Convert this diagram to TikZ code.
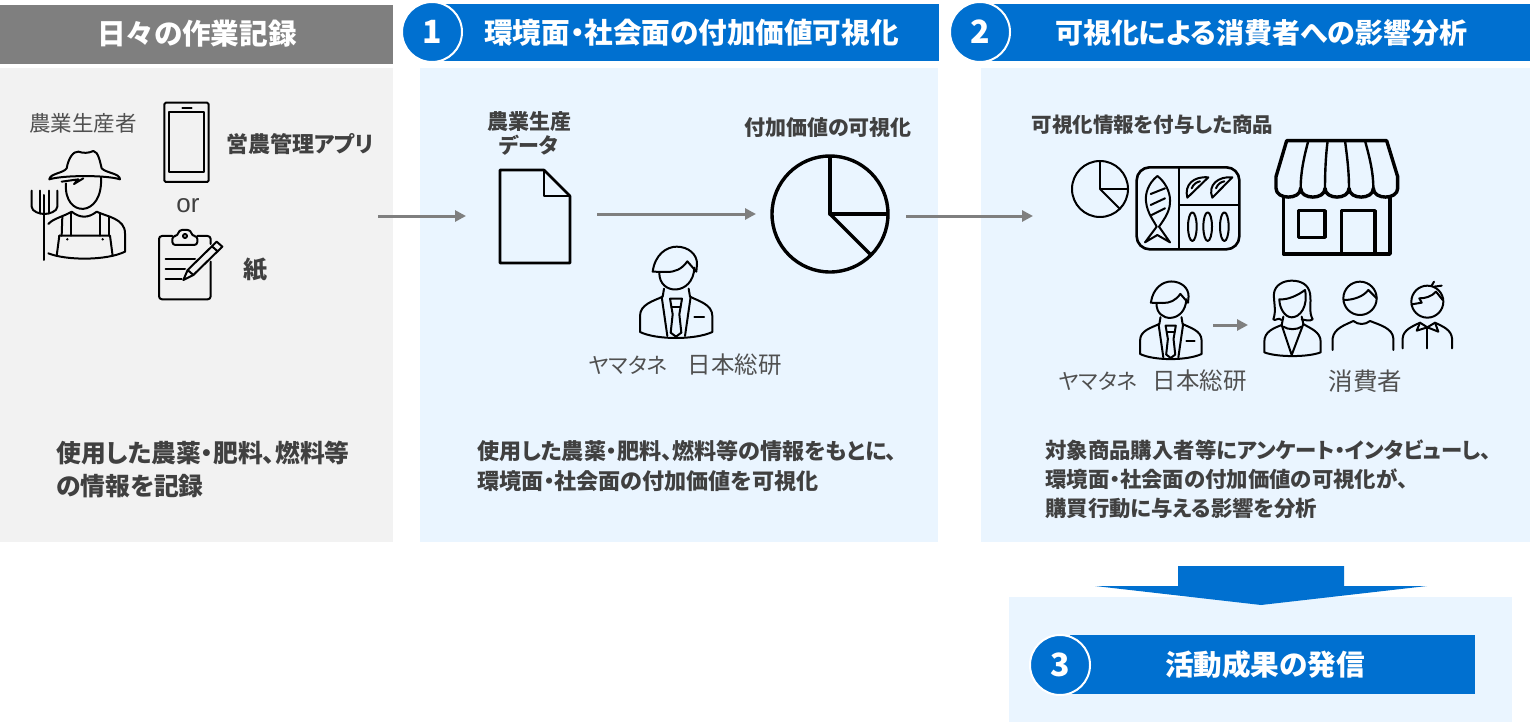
\documentclass[tikz,border=0pt]{standalone}
\usepackage{fontspec}
\setmainfont{Noto Sans CJK JP}[RawFeature=+palt]
\newfontfamily\orfont{Liberation Sans}
\usetikzlibrary{arrows.meta}
\definecolor{headblue}{HTML}{0070D0}
\definecolor{panelblue}{HTML}{EAF5FF}
\definecolor{panelgray}{HTML}{F2F2F2}
\definecolor{headgray}{HTML}{7F7F7F}
\definecolor{inktext}{HTML}{404040}
\definecolor{thintext}{HTML}{505050}
\newcommand{\fsz}[2]{\fontsize{#1}{#2}\selectfont}
\tikzset{
  headtext/.style={text=white,font=\fsz{28.6}{30}\bfseries,inner sep=0pt},
  numdisc/.style={circle,fill=headblue,draw=white,line width=2pt,minimum size=60pt,inner sep=0pt,text=white,font=\fsz{32}{32}\bfseries},
  labelbold/.style={text=inktext,font=\fsz{21}{24}\bfseries,inner sep=0pt,align=center},
  labelthin/.style={text=thintext,font=\fsz{21.5}{22},inner sep=0pt},
  namethin/.style={text=thintext,font=\fsz{23.5}{24},inner sep=0pt},
  bodytext/.style={text=inktext,inner sep=0pt,align=left,anchor=west},
  flowarrow/.style={draw=headgray,line width=3pt,-{Triangle[length=11pt,width=11pt]}},
  icon/.style={draw=black,line width=2pt,line join=round,line cap=round},
  iconb/.style={draw=black,line width=3.4pt,line join=round},
  pieicon/.pic={
    \draw[pic actions] (0,0) circle (1);
    \draw[pic actions] (0,-1) -- (0,0) -- (1,0);
    \draw[pic actions] (0,0) -- (.71,.71);
  },
  suitman/.pic={
    \begin{scope}[scale=1/3,shift={(-588,-578)}]
      \draw[icon] (518,517) .. controls (525,465) and (560,442) .. (590,442) .. controls (625,442) and (652,465) .. (651,495) -- (649,517) -- (622,486) .. controls (605,510) and (585,518) .. (560,518) -- cycle;
      \draw[icon] (538,518) .. controls (535,590) and (640,590) .. (643,505);
      \draw[icon] (552,568) -- (548,592) .. controls (520,605) and (480,615) .. (480,650) -- (480,698) .. controls (530,722) and (645,722) .. (697,698) -- (697,650) .. controls (697,615) and (655,605) .. (630,592) -- (626,568);
      \draw[icon] (545,592) -- (562,710);
      \draw[icon] (632,592) -- (615,710);
      \draw[icon] (570,598) -- (606,598) -- (598,645) -- (604,700) -- (588,712) -- (572,700) -- (578,645) -- cycle;
      \draw[icon] (574,622) -- (602,622);
      \draw[icon] (643,653) -- (672,653);
    \end{scope}
  }
}
\begin{document}
\begin{tikzpicture}[x=1pt,y=-1pt]
\useasboundingbox (0,0) rectangle (1530,722);
% panels
\fill[panelgray] (0,68) rectangle (393,542);
\fill[panelblue] (420,68) rectangle (938,542);
\fill[panelblue] (981,68) rectangle (1530,542);
\fill[panelblue] (1009,597) rectangle (1512,722);
\fill[headgray] (0,5) rectangle (393,64);
\fill[headblue] (440,4) rectangle (939,61);
\fill[headblue] (985,4) rectangle (1530,61);
\fill[headblue] (1070,635) rectangle (1475,694);
\fill[headblue] (1178,566) -- (1344,566) -- (1344,586) -- (1427,586) -- (1261,605) -- (1095,586) -- (1178,586) -- cycle;
% headers
\node[headtext] (loghead) at (197,34) {日々の作業記録};
\node[numdisc] (numone) at (432,32) {1};
\node[headtext] (onehead) at (691.5,33) {環境面・社会面の付加価値可視化};
\node[numdisc] (numtwo) at (980,32) {2};
\node[headtext,font=\fsz{28}{30}\bfseries] (twohead) at (1261,33) {可視化による消費者への影響分析};
\node[numdisc] (numthree) at (1060,665) {3};
\node[headtext] (threehead) at (1265,665) {活動成果の発信};
% left panel
\node[labelthin] (farmerlabel) at (83,123) {農業生産者};
\node[labelbold,font=\fsz{22}{24}\bfseries] (applabel) at (300,144) {営農管理アプリ};
\node[text=inktext,font=\fsz{26}{26}\orfont,inner sep=0pt] (orlabel) at (188,206) {or};
\node[labelbold,font=\fsz{24}{24}\bfseries] (paperlabel) at (255,270) {紙};
\node[bodytext,font=\fsz{24.8}{33}\bfseries] (logbody) at (56,469.5) {使用した農薬・肥料、燃料等\\の情報を記録};
\begin{scope}[shift={(0,70)},scale=1/3]
  \draw[icon] (148,328) .. controls (150,310) and (190,310) .. (200,295) .. controls (205,265) and (220,243) .. (235,245) .. controls (250,250) and (265,250) .. (280,243) .. controls (295,245) and (300,275) .. (305,295) .. controls (320,310) and (360,310) .. (360,328) .. controls (320,315) and (190,315) .. (148,328) -- cycle;
  \draw[icon] (185,335) -- (235,328) -- (222,342) -- (250,325);
  \draw[icon] (198,340) .. controls (190,445) and (310,445) .. (303,322);
  \draw[icon] (145,462) .. controls (160,445) and (190,440) .. (215,425) .. controls (240,445) and (265,445) .. (290,425) .. controls (320,440) and (375,445) .. (375,490) -- (375,545);
  \draw[icon] (187,440) -- (185,497);
  \draw[icon] (212,430) -- (212,497);
  \draw[icon] (300,430) -- (300,497);
  \draw[icon] (327,440) -- (327,497);
  \draw[icon] (178,497) -- (330,497) -- (338,558);
  \draw[icon] (178,497) -- (170,558);
  \draw[icon] (145,550) .. controls (200,572) and (320,572) .. (375,545);
  \fill (202,508) circle (4);
  \fill (308,508) circle (4);
  \draw[icon] (133,375) -- (133,570);
  \draw[icon] (95,362) -- (95,410) .. controls (95,425) and (120,432) .. (133,432) .. controls (146,432) and (172,425) .. (172,410) -- (172,362);
  \draw[icon] (120,362) -- (120,430);
  \draw[icon] (146,362) -- (146,430);
  % phone
  \draw[icon,rounded corners=1.5pt] (493,98) rectangle (626,336);
  \draw[icon] (507,127) rectangle (612,307);
  \draw[icon] (547,113) -- (575,113);
  % clipboard
  \draw[icon,rounded corners=3pt] (517,498) -- (477,498) -- (477,688) -- (632,688) -- (632,575);
  \draw[icon,rounded corners=3pt] (592,498) -- (632,498) -- (632,522);
  \draw[icon,rounded corners=3pt] (517,525) -- (517,498) -- (533,498) -- (537,480) -- (572,480) -- (576,498) -- (592,498) -- (592,525) -- cycle;
  \draw[icon] (555,498) circle (6);
  \draw[icon] (497,567) -- (585,567);
  \draw[icon] (497,597) -- (555,597);
  \draw[icon] (497,628) -- (545,628);
  \draw[icon] (550,630) -- (563,600) -- (650,515) -- (667,530) -- (580,615) -- cycle;
  \draw[icon] (563,600) -- (580,615);
  \draw[icon] (636,529) -- (653,544);
\end{scope}
% middle panel
\node[labelbold] (datalabel) at (529,133) {農業生産\\データ};
\node[labelbold] (valuelabel) at (828,128) {付加価値の可視化};
\node[labelthin] (yamaone) at (628,365) {ヤマタネ};
\node[namethin] (soukenone) at (734.5,365) {日本総研};
\node[bodytext,font=\fsz{22.1}{30}\bfseries] (onebody) at (477,466) {使用した農薬・肥料、燃料等の情報をもとに、\\環境面・社会面の付加価値を可視化};
\draw[iconb,line width=2.6pt] (500,170) -- (544,170) -- (570,196) -- (570,263) -- (500,263) -- cycle;
\draw[iconb,line width=2.6pt] (544,170) -- (544,196) -- (570,196);
\pic[iconb,scale=58] (pieone) at (830,214) {pieicon};
\pic (manone) at (676,292) {suitman};
% right panel
\node[labelbold,font=\fsz{20.5}{24}\bfseries] (goodslabel) at (1152.5,125) {可視化情報を付与した商品};
\node[labelthin] (yamatwo) at (1098,381) {ヤマタネ};
\node[namethin] (soukentwo) at (1199.5,381) {日本総研};
\node[namethin,font=\fsz{24.5}{25}] (buyerlabel) at (1365.5,381) {消費者};
\node[bodytext,font=\fsz{21.4}{29}\bfseries] (twobody) at (1045,479) {対象商品購入者等にアンケート・インタビューし、\\環境面・社会面の付加価値の可視化が、\\購買行動に与える影響を分析};
\pic[icon,scale=28] (pietwo) at (1100,189) {pieicon};
\pic[scale=.85] (mantwo) at (1170.7,320) {suitman};
\begin{scope}[shift={(1030,120)},scale=1/3]
  % tray
  \draw[iconb,line width=2.6pt,rounded corners=13pt] (320,142) rectangle (628,388);
  \draw[iconb,line width=2.6pt] (447,142) -- (447,388);
  \draw[iconb,line width=2.6pt] (447,255) -- (628,255);
  \draw[icon] (382,168) .. controls (355,190) and (345,220) .. (348,245) .. controls (352,280) and (370,300) .. (380,320) -- (345,367) -- (382,345) -- (420,367) -- (387,320) .. controls (405,295) and (422,270) .. (420,240) .. controls (420,215) and (405,185) .. (382,168) -- cycle;
  \draw[icon] (362,222) -- (405,205);
  \draw[icon] (362,255) -- (405,235);
  \draw[icon] (365,285) -- (405,265);
  \draw[icon] (472,233) .. controls (462,195) and (490,168) .. (535,172) -- cycle;
  \draw[icon] (485,205) .. controls (490,192) and (500,186) .. (510,184);
  \draw[icon] (547,233) .. controls (532,195) and (565,168) .. (607,172) -- cycle;
  \draw[icon] (558,205) .. controls (563,192) and (573,186) .. (583,184);
  \draw[icon] (487,320) ellipse [x radius=13,y radius=43];
  \draw[icon] (533,320) ellipse [x radius=13,y radius=43];
  \draw[icon] (583,320) ellipse [x radius=13,y radius=43];
  % store
  \draw[iconb] (770,62) -- (1070,62) -- (1103,170) -- (1103,205) .. controls (1103,240) and (1030,240) .. (1030,205) .. controls (1030,240) and (957,240) .. (957,205) .. controls (957,240) and (885,240) .. (885,205) .. controls (885,240) and (812,240) .. (812,205) .. controls (812,240) and (738,240) .. (738,205) -- (738,170) -- cycle;
  \draw[iconb,line width=2.4pt] (812,205) .. controls (812,150) and (825,100) .. (835,62);
  \draw[iconb,line width=2.4pt] (885,205) .. controls (885,150) and (888,100) .. (893,62);
  \draw[iconb,line width=2.4pt] (957,205) .. controls (957,150) and (950,100) .. (945,62);
  \draw[iconb,line width=2.4pt] (1030,205) .. controls (1030,150) and (1015,100) .. (1005,62);
  \draw[iconb] (760,232) -- (760,402) -- (1080,402) -- (1080,232);
  \draw[iconb] (805,272) rectangle (885,352);
  \draw[iconb] (935,402) -- (935,272) -- (1035,272) -- (1035,402);
  % woman
  \draw[icon] (755,600) .. controls (745,590) and (735,605) .. (730,598) .. controls (740,570) and (730,545) .. (732,520) .. controls (735,495) and (760,482) .. (785,482) .. controls (815,482) and (835,495) .. (840,520) .. controls (845,550) and (835,575) .. (848,598) .. controls (840,605) and (825,600) .. (815,598);
  \draw[icon] (748,538) .. controls (775,540) and (805,525) .. (825,510) .. controls (835,560) and (810,592) .. (785,592) .. controls (765,592) and (748,565) .. (748,538) -- cycle;
  \draw[icon] (760,590) -- (755,615) .. controls (730,625) and (703,635) .. (703,665) -- (703,697) .. controls (740,712) and (835,712) .. (872,697) -- (872,665) .. controls (872,635) and (840,625) .. (820,612) -- (815,590);
  \draw[icon] (755,615) -- (785,705) -- (820,612);
  \draw[icon] (760,620) .. controls (775,630) and (800,630) .. (815,620);
  % man
  \draw[icon] (990,535) circle (50);
  \draw[icon] (942,540) .. controls (970,540) and (1000,530) .. (1015,510) -- (1040,535);
  \draw[icon] (908,690) -- (908,655) .. controls (912,625) and (945,615) .. (970,603) .. controls (985,615) and (1005,615) .. (1020,603) .. controls (1050,615) and (1088,625) .. (1090,655) -- (1090,690);
  % boy
  \draw[icon] (1192,545) circle (48);
  \draw[icon] (1145,553) -- (1175,548) -- (1168,535) .. controls (1185,535) and (1205,530) .. (1218,515) -- (1238,540);
  \draw[icon] (1205,497) -- (1212,485);
  \draw[icon] (1212,500) -- (1235,497);
  \draw[icon] (1118,685) -- (1118,655) .. controls (1120,630) and (1145,620) .. (1170,608) -- (1192,622) -- (1215,608) .. controls (1240,620) and (1264,630) .. (1266,655) -- (1266,685);
  \draw[icon] (1192,622) -- (1192,685);
  \draw[icon] (1170,608) -- (1160,632) -- (1192,622) -- (1225,635) -- (1215,608);
\end{scope}
% connectors
\coordinate (logout) at (378,216);
\coordinate (docin) at (466,216);
\coordinate (docout) at (597,214);
\coordinate (piein) at (756,214);
\coordinate (pieout) at (906,216);
\coordinate (goodsin) at (1033,216);
\coordinate (manout) at (1213,325);
\coordinate (buyerin) at (1248,325);
\draw[flowarrow] (logout) -- (docin);
\draw[flowarrow] (docout) -- (piein);
\draw[flowarrow] (pieout) -- (goodsin);
\draw[flowarrow] (manout) -- (buyerin);
\end{tikzpicture}
\end{document}
